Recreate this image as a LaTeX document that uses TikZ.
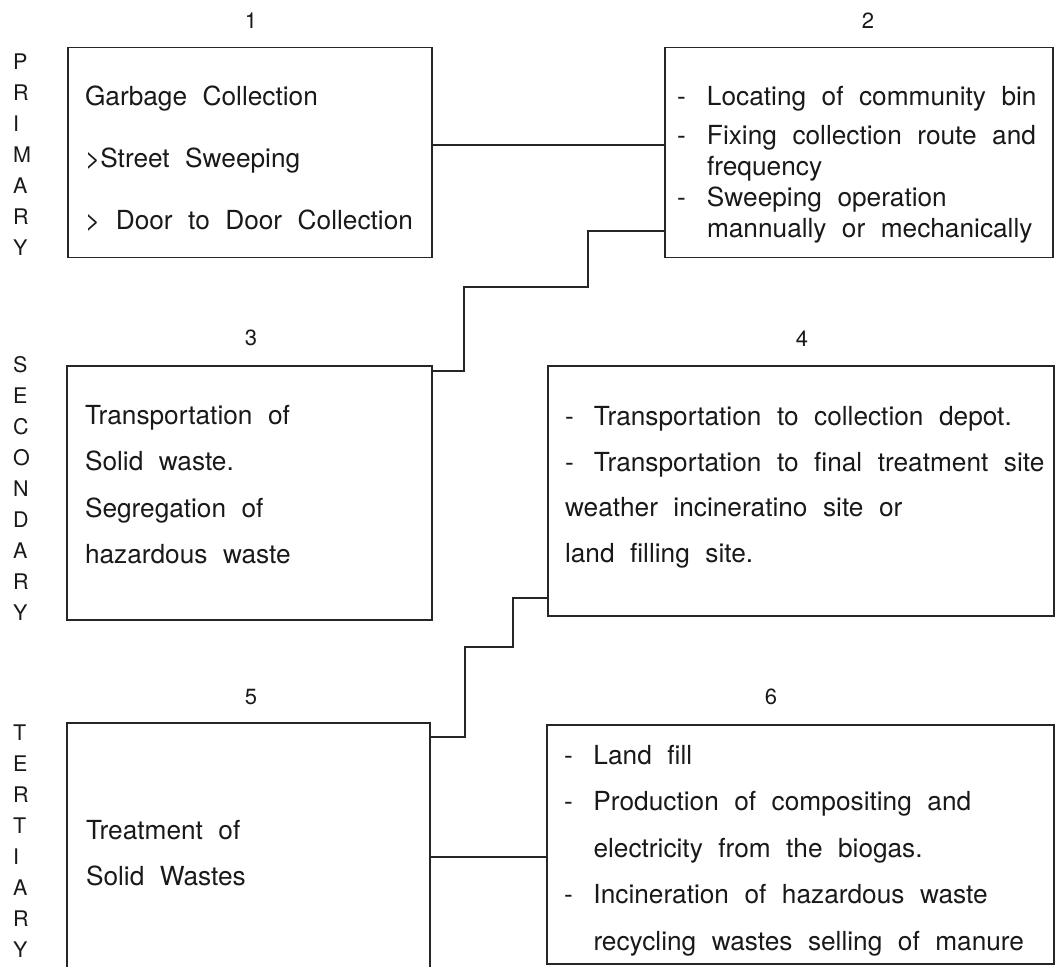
\documentclass[tikz,border=0pt]{standalone}
\usepackage{fontspec}
\setmainfont{TeX Gyre Heros}
\usepackage{tikz}
\newcommand\widegap{\spaceskip=15.5pt plus 2pt minus 1pt\relax}

\begin{document}
\begin{tikzpicture}[x=1pt,y=-1pt,
    stagebox/.style={draw=black!85,line width=1.8pt,anchor=north west,outer sep=0pt,inner ysep=0pt,
        align=left,text=black!90,font=\fontsize{26.25}{46.5}\selectfont},
    stagenum/.style={text=black!90,font=\fontsize{22}{26}\selectfont},
    sidetext/.style={anchor=west,inner sep=0pt,align=left,text=black!90,font=\fontsize{21.5}{31}\selectfont},
    link/.style={draw=black!85,line width=1.8pt}]
    \useasboundingbox (0,0) rectangle (1056,966);

    \node[sidetext] (prim) at (13,155) {P\\R\\I\\M\\A\\R\\Y};
    \node[sidetext] (sec) at (13,488.5) {S\\E\\C\\O\\N\\D\\A\\R\\Y};
    \node[sidetext] (tert) at (13,841) {T\\E\\R\\T\\I\\A\\R\\Y};

    \node[stagenum] (n1) at (251,21) {1};
    \node[stagenum] (n2) at (868,21) {2};
    \node[stagenum] (n3) at (251,338) {3};
    \node[stagenum] (n4) at (802,339) {4};
    \node[stagenum] (n5) at (251,697) {5};
    \node[stagenum] (n6) at (771,697) {6};

    \node[stagebox,inner xsep=17pt,text width=330pt,text height=57.9pt,text depth=152.1pt,
        font=\fontsize{26.25}{62}\selectfont] (b1) at (68,47.5)
        {\widegap Garbage Collection\\>Street Sweeping\\
        \mbox{> Door to Door Collection}};
    \node[stagebox,inner xsep=12pt,text width=364pt,text height=57.9pt,text depth=152.1pt,
        font=\fontsize{26.25}{31}\selectfont] (b2) at (665,47.5)
        {\widegap\mbox{\makebox[30pt][l]{-}Locating of community bin}\\[8pt]
        \mbox{\makebox[30pt][l]{-}Fixing collection route and}\\
        \hspace*{30pt}frequency\\
        \makebox[30pt][l]{-}Sweeping operation\\
        \mbox{\hspace*{30pt}mannually or mechanically}};
    \node[stagebox,inner xsep=18pt,text width=329pt,text height=58.4pt,text depth=195.6pt] (b3) at (67,366)
        {\widegap Transportation of\\Solid waste.\\Segregation of\\hazardous waste};
    \node[stagebox,inner xsep=17pt,text width=472pt,text height=59.4pt,text depth=190.6pt,
        font=\fontsize{26.25}{45.7}\selectfont] (b4) at (548,366)
        {\widegap\makebox[29pt][l]{-}Transportation to collection depot.\\
        \mbox{\makebox[29pt][l]{-}Transportation to final treatment site}\\
        weather incineratino site or\\
        land filling site.};
    \node[stagebox,inner xsep=19pt,text width=325pt,text height=116.4pt,text depth=140pt] (b5) at (67,723)
        {\widegap Treatment of\\Solid Wastes};
    \node[stagebox,inner xsep=17pt,text width=473pt,text height=39.4pt,text depth=199.6pt] (b6) at (547,725)
        {\widegap\makebox[29.5pt][l]{-}Land fill\\
        \makebox[29.5pt][l]{-}Production of compositing and\\
        \hspace*{29.5pt}electricity from the biogas.\\
        \makebox[29.5pt][l]{-}Incineration of hazardous waste\\
        \mbox{\hspace*{29.5pt}recycling wastes selling of manure}};

    \draw[link] (b1.east |- 0,145) -- (b2.west |- 0,145);
    \draw[link] (b2.west |- 0,231) -| (588,287) -| (464,371) -- (b3.east |- 0,371);
    \draw[link] (b4.west |- 0,598) -| (513,647) -| (465,737) -- (b5.east |- 0,737);
    \draw[link] (b5.east |- 0,857) -- (b6.west |- 0,857);
\end{tikzpicture}
\end{document}
